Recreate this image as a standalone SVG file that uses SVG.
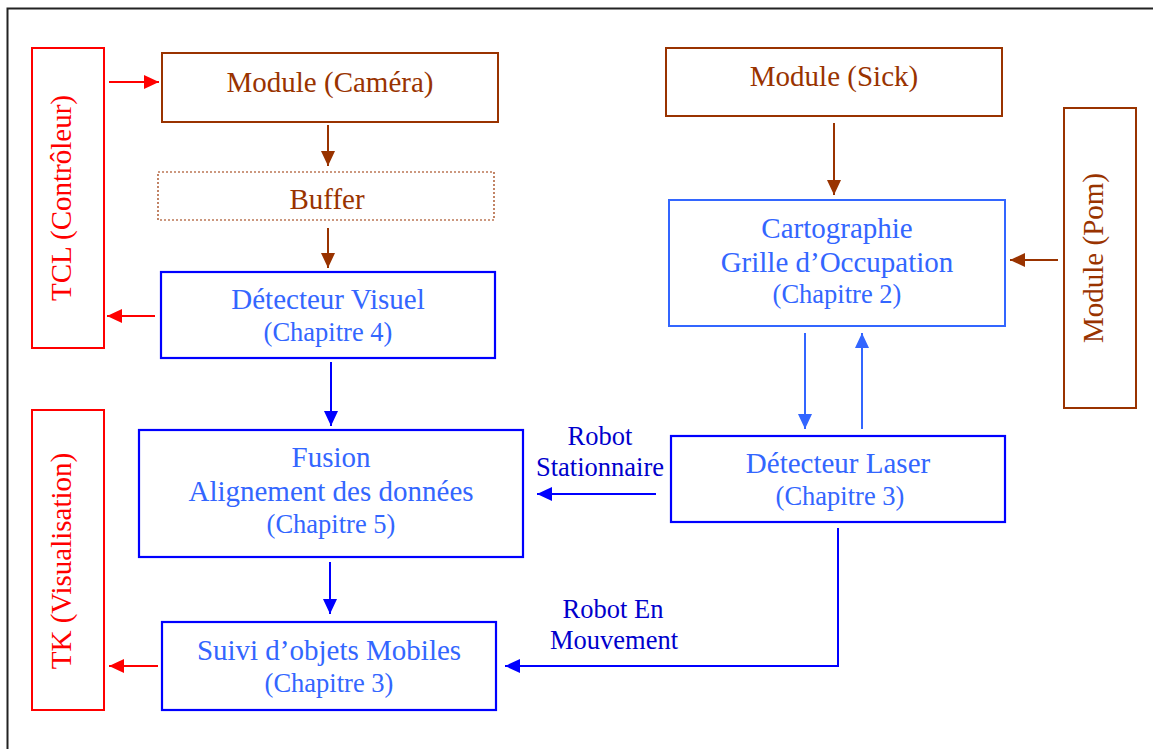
<svg xmlns="http://www.w3.org/2000/svg" width="1153" height="749" viewBox="0 0 1153 749">
<style>
text{font-family:"Liberation Serif","Times New Roman",serif;text-anchor:middle}
.m{font-size:29px}
.s{font-size:26.5px}
.br{fill:#993300}
.bl{fill:#3366FF}
.rd{fill:#FF0000}
.dk{fill:#0000CC}
.bbox{fill:#fff;stroke:#993300;stroke-width:2}
.rbox{fill:#fff;stroke:#FF0000;stroke-width:2}
.ubox{fill:#fff;stroke:#0000FF;stroke-width:2.2}
.lbox{fill:#fff;stroke:#3366FF;stroke-width:2}
.c{fill:none;stroke-width:2}
</style>
<defs>
<marker id="aR" markerUnits="userSpaceOnUse" markerWidth="15" markerHeight="14" refX="15" refY="7" orient="auto"><path d="M0,0L15,7L0,14z" fill="#FF0000"/></marker>
<marker id="aB" markerUnits="userSpaceOnUse" markerWidth="15" markerHeight="14" refX="15" refY="7" orient="auto"><path d="M0,0L15,7L0,14z" fill="#993300"/></marker>
<marker id="aU" markerUnits="userSpaceOnUse" markerWidth="15" markerHeight="14" refX="15" refY="7" orient="auto"><path d="M0,0L15,7L0,14z" fill="#0000FF"/></marker>
<marker id="aL" markerUnits="userSpaceOnUse" markerWidth="15" markerHeight="14" refX="15" refY="7" orient="auto"><path d="M0,0L15,7L0,14z" fill="#3366FF"/></marker>
</defs>
<rect x="0" y="0" width="1153" height="749" fill="#fff"/>
<rect x="7.5" y="8.5" width="1200" height="800" fill="none" stroke="#222" stroke-width="2"/>

<g id="tcl"><rect class="rbox" x="32" y="48" width="72" height="300"/><text class="m rd" x="71" y="198" transform="rotate(-90 71 198)">TCL (Contrôleur)</text></g>
<g id="tk"><rect class="rbox" x="32" y="410" width="72" height="300"/><text class="m rd" x="71" y="561" transform="rotate(-90 71 561)">TK (Visualisation)</text></g>
<g id="camera"><rect class="bbox" x="162" y="53" width="336" height="69"/><text class="m br" x="330" y="92">Module (Caméra)</text></g>
<g id="buffer"><rect x="158" y="172" width="336" height="48" fill="#fff" stroke="#993300" stroke-width="1.2" stroke-dasharray="2,2"/><text class="m br" x="327" y="209">Buffer</text></g>
<g id="visuel"><rect class="ubox" x="161" y="272" width="334" height="86"/><text class="m bl" x="328" y="309">Détecteur Visuel</text><text class="s bl" x="328" y="341">(Chapitre 4)</text></g>
<g id="fusion"><rect class="ubox" x="139" y="430" width="384" height="127"/><text class="m bl" x="331" y="467">Fusion</text><text class="m bl" x="331" y="501">Alignement des données</text><text class="s bl" x="331" y="533">(Chapitre 5)</text></g>
<g id="suivi"><rect class="ubox" x="162" y="622" width="334" height="88"/><text class="m bl" x="329" y="660">Suivi d’objets Mobiles</text><text class="s bl" x="329" y="692">(Chapitre 3)</text></g>
<g id="sick"><rect class="bbox" x="666" y="48" width="336" height="68"/><text class="m br" x="834" y="86">Module (Sick)</text></g>
<g id="carto"><rect class="lbox" x="669" y="200" width="336" height="126"/><text class="m bl" x="837" y="238">Cartographie</text><text class="m bl" x="837" y="272">Grille d’Occupation</text><text class="s bl" x="837" y="303">(Chapitre 2)</text></g>
<g id="pom"><rect class="bbox" x="1064" y="108" width="72" height="300"/><text class="m br" x="1103" y="258" transform="rotate(-90 1103 258)">Module (Pom)</text></g>
<g id="laser"><rect class="ubox" x="671" y="436" width="334" height="86"/><text class="m bl" x="838" y="473">Détecteur Laser</text><text class="s bl" x="840" y="505">(Chapitre 3)</text></g>

<g id="connectors">
<line class="c" x1="109" y1="82" x2="159" y2="82" stroke="#FF0000" marker-end="url(#aR)"/>
<line class="c" x1="328" y1="125" x2="328" y2="166" stroke="#993300" marker-end="url(#aB)"/>
<line class="c" x1="328" y1="228" x2="328" y2="268" stroke="#993300" marker-end="url(#aB)"/>
<line class="c" x1="155" y1="316" x2="107" y2="316" stroke="#FF0000" marker-end="url(#aR)"/>
<line class="c" x1="331" y1="362" x2="331" y2="426" stroke="#0000FF" marker-end="url(#aU)"/>
<line class="c" x1="330" y1="562" x2="330" y2="614" stroke="#0000FF" marker-end="url(#aU)"/>
<line class="c" x1="158" y1="666" x2="109" y2="666" stroke="#FF0000" marker-end="url(#aR)"/>
<line class="c" x1="834" y1="123" x2="834" y2="195" stroke="#993300" marker-end="url(#aB)"/>
<line class="c" x1="1058" y1="260" x2="1010" y2="260" stroke="#993300" marker-end="url(#aB)"/>
<line class="c" x1="805" y1="333" x2="805" y2="429" stroke="#3366FF" marker-end="url(#aL)"/>
<line class="c" x1="862" y1="429" x2="862" y2="333" stroke="#3366FF" marker-end="url(#aL)"/>
<line class="c" x1="656" y1="494" x2="537" y2="494" stroke="#0000FF" marker-end="url(#aU)"/>
<polyline class="c" points="838,528 838,666 505,666" stroke="#0000FF" marker-end="url(#aU)"/>
<text class="s dk" x="600" y="445">Robot</text>
<text class="s dk" x="600" y="476">Stationnaire</text>
<text class="s dk" x="613" y="618">Robot En</text>
<text class="s dk" x="614" y="649">Mouvement</text>
</g>
</svg>
